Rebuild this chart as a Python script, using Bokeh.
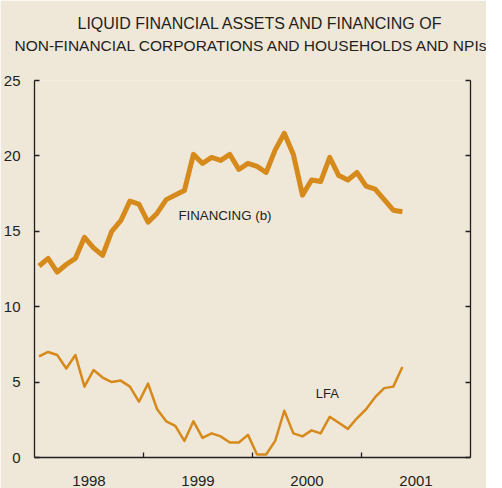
from bokeh.plotting import figure
from bokeh.models import LinearAxis, FixedTicker, Range1d, Title, Label
from bokeh.embed import file_html
from bokeh.resources import INLINE

# ---- data -------------------------------------------------------------
months = [f"{1998 + i // 12}-{i % 12 + 1:02d}" for i in range(41)]  # Jan 1998 .. May 2001
financing = [12.7, 13.2, 12.3, 12.8, 13.2, 14.6, 13.9, 13.4, 15.0, 15.7,
             17.0, 16.8, 15.6, 16.2, 17.1, 17.4, 17.7, 20.1, 19.5, 19.9,
             19.7, 20.1, 19.1, 19.5, 19.3, 18.9, 20.4, 21.5, 20.1, 17.4,
             18.4, 18.3, 19.9, 18.7, 18.4, 18.9, 18.0, 17.8, 17.1, 16.4, 16.3]
lfa = [6.7, 7.0, 6.8, 5.9, 6.8, 4.7, 5.8, 5.3, 5.0, 5.1,
       4.7, 3.7, 4.9, 3.2, 2.4, 2.1, 1.1, 2.4, 1.3, 1.6,
       1.4, 1.0, 1.0, 1.5, 0.2, 0.2, 1.1, 3.1, 1.6, 1.4,
       1.8, 1.6, 2.7, 2.3, 1.9, 2.6, 3.2, 4.0, 4.6, 4.7, 6.0]
years = ["1998", "1999", "2000", "2001"]
y_ticks = [0, 5, 10, 15, 20, 25]

title_1 = "LIQUID FINANCIAL ASSETS AND FINANCING OF"
title_2 = "NON-FINANCIAL CORPORATIONS AND HOUSEHOLDS AND NPIs"


def month_pos(m):
    y, mo = m.split("-")
    return int(y) + (int(mo) - 0.5) / 12


x = [month_pos(m) for m in months]
year_mid = [int(y) + 0.5 for y in years]
year_bounds = [int(y) for y in years[1:]]

BG = "#efe7d8"
ORANGE = "#d68a1c"
INK = "#231f20"
FONT = "Liberation Sans"

p = figure(width=486, height=488,
           x_range=Range1d(1998, 2002), y_range=Range1d(0, 25),
           output_backend="svg", toolbar_location=None,
           min_border_left=31, min_border_right=16,
           min_border_top=80, min_border_bottom=30,
           background_fill_color=BG, border_fill_color=BG,
           outline_line_color=None)
p.grid.visible = False

# heading: p.title is outermost; added items stack from the frame outward
p.title.text = title_1
p.title.align = "left"
p.title.offset = 43
p.title.text_font = FONT
p.title.text_font_size = "16px"
p.title.text_font_style = "normal"
p.title.text_color = INK
p.title.standoff = 3
spacer = Title(text=" ", text_font_size="1px", standoff=23, text_color=BG)
p.add_layout(spacer, "above")
t2 = Title(text=title_2, align="left", offset=-20, text_font=FONT,
           text_font_size="15.5px", text_font_style="normal", text_color=INK,
           standoff=2)
p.add_layout(t2, "above")

# x axis
xa = p.xaxis[0]
xa.ticker = FixedTicker(ticks=year_mid, minor_ticks=year_bounds)
xa.major_label_overrides = {m: y for m, y in zip(year_mid, years)}
xa.major_tick_line_color = None
xa.minor_tick_in = 5
xa.minor_tick_out = 0
xa.minor_tick_line_color = INK
xa.minor_tick_line_width = 1.3
xa.axis_line_color = INK
xa.axis_line_width = 1.3
xa.major_label_standoff = 12
xa.major_label_text_font = FONT
xa.major_label_text_font_size = "15px"
xa.major_label_text_color = INK

# left y axis
ya = p.yaxis[0]
ya.ticker = FixedTicker(ticks=y_ticks)
ya.major_tick_in = 5
ya.major_tick_out = 0
ya.major_tick_line_color = INK
ya.major_tick_line_width = 1.3
ya.minor_tick_line_color = None
ya.axis_line_color = INK
ya.axis_line_width = 1.3
ya.major_label_standoff = 14
ya.major_label_text_font = FONT
ya.major_label_text_font_size = "15px"
ya.major_label_text_color = INK

# right y axis
ra = LinearAxis(ticker=FixedTicker(ticks=y_ticks),
                major_label_overrides={t: "" for t in y_ticks},
                major_tick_in=5, major_tick_out=0,
                major_tick_line_color=INK, major_tick_line_width=1.3,
                minor_tick_line_color=None,
                axis_line_color=INK, axis_line_width=1.3,
                major_label_standoff=0)
p.add_layout(ra, "right")

# series
p.line(x, financing, line_width=5, color=ORANGE, line_join="round")
p.line(x, lfa, line_width=2.5, color=ORANGE, line_join="round")

p.add_layout(Label(x=1999.32, y=16.05, text="FINANCING (b)", text_font=FONT,
                   text_font_size="13.3px", text_baseline="middle", text_color=INK))
p.add_layout(Label(x=2000.58, y=4.22, text="LFA", text_font=FONT,
                   text_font_size="13px", text_baseline="middle", text_color=INK))

open("out.html", "w").write(file_html(p, INLINE))
